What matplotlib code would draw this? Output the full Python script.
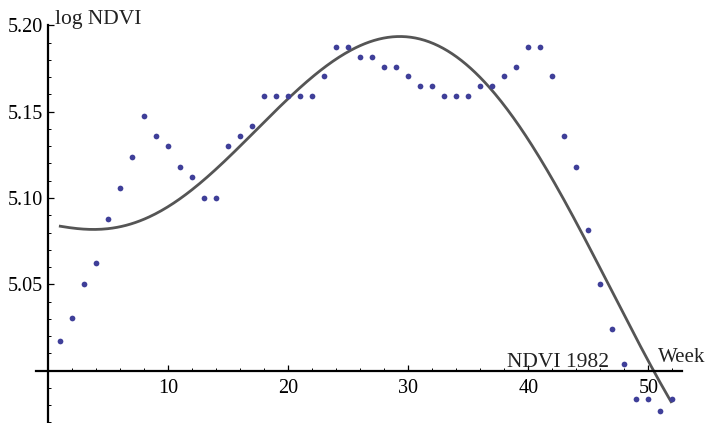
import numpy as np
import matplotlib
matplotlib.use("Agg")
import matplotlib.pyplot as plt

weeks = list(range(1, 53))
log_ndvi = [5.0173, 5.0304, 5.0499, 5.0626, 5.0876, 5.1059, 5.1240, 5.1475,
            5.1358, 5.1299, 5.1180, 5.1120, 5.0999, 5.0999, 5.1299, 5.1358,
            5.1417, 5.1591, 5.1591, 5.1591, 5.1591, 5.1591, 5.1705, 5.1874,
            5.1874, 5.1818, 5.1818, 5.1761, 5.1761, 5.1705, 5.1648, 5.1648,
            5.1591, 5.1591, 5.1591, 5.1648, 5.1648, 5.1705, 5.1761, 5.1874,
            5.1874, 5.1705, 5.1358, 5.1180, 5.0814, 5.0499, 5.0239, 5.0039,
            4.9836, 4.9836, 4.9767, 4.9836]

# fitted model curve at these weeks
fit_weeks = [1.0, 3.3, 5.5, 8.3, 11.1, 13.9, 16.0, 18.75, 21.5, 24.3, 27.1,
             29.6, 32.6, 34.3, 37.1, 39.9, 42.6, 45.1, 47.6, 50.4, 51.8]
fit_values = [5.0838, 5.0815, 5.0830, 5.0882, 5.1008, 5.1162, 5.1307, 5.1481,
              5.1674, 5.1819, 5.1915, 5.1940, 5.1867, 5.1800, 5.1626, 5.1355,
              5.1027, 5.0699, 5.0390, 5.0003, 4.9830]

x_ticks = [10, 20, 30, 40, 50]
y_ticks = [5.05, 5.10, 5.15, 5.20]
y_tick_labels = ["5.05", "5.10", "5.15", "5.20"]

plt.rcParams['font.family'] = ['Liberation Serif', 'DejaVu Serif']

W, H = 723, 423
fig = plt.figure(figsize=(W / 100, H / 100), dpi=100)
ax = fig.add_axes([0, 0, 1, 1])

# pixel mapping
x0_px, px_per_week = 48.3, 12.0
y0_px, px_per_unit = 370.6, 1726.0
ax.set_xlim(-x0_px / px_per_week, (W - x0_px) / px_per_week)
ax.set_ylim(5.0 - (H - y0_px) / px_per_unit, 5.0 + y0_px / px_per_unit)

ax.patch.set_alpha(0)
for s in ['top', 'right']:
    ax.spines[s].set_visible(False)
ax.spines['left'].set_position(('data', 0))
ax.spines['bottom'].set_position(('data', 5.0))
ax.spines['left'].set_bounds(5.0 - (H - y0_px) / px_per_unit, 5.2)
ax.spines['bottom'].set_bounds(-1.0, 52.8)
for s in ['left', 'bottom']:
    ax.spines[s].set_linewidth(1.6)
    ax.spines[s].set_color('black')

ax.set_xticks(x_ticks)
ax.set_xticklabels([str(t) for t in x_ticks])
ax.set_xticks(np.arange(2, 53, 2), minor=True)
ax.set_yticks(y_ticks)
ax.set_yticklabels(y_tick_labels)
ax.set_yticks(np.arange(4.97, 5.2001, 0.01), minor=True)
ax.tick_params(axis='both', which='major', direction='in', length=4.5, width=0.9,
               labelsize=14.5, colors='black')
ax.tick_params(axis='both', which='minor', direction='in', length=2.5, width=0.7)
ax.tick_params(axis='x', which='major', pad=6)
ax.tick_params(axis='y', which='major', pad=4)

# fitted curve (smooth polynomial through the read samples)
coef = np.polyfit(fit_weeks, fit_values, 6)
xs = np.linspace(1, 51.9, 400)
ax.plot(xs, np.polyval(coef, xs), color='#555555', lw=2.0, zorder=2, clip_on=False)

# data points
ax.scatter(weeks, log_ndvi, s=17, color='#3F3F99', zorder=3, linewidths=0, clip_on=False)

ax.text(0.56, 5.2008, 'log NDVI', fontsize=15.5, ha='left', va='baseline', color='#222222')
ax.text(50.8, 5.005, 'Week', fontsize=15, ha='left', va='baseline', color='#222222')
ax.text(46.7, 5.0022, 'NDVI 1982', fontsize=15.5, ha='right', va='baseline', color='#222222')

fig.savefig('out.png', dpi=100)
